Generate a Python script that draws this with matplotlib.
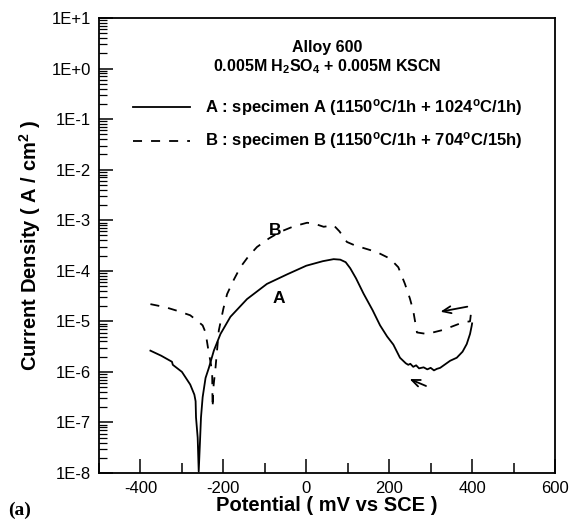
import matplotlib
matplotlib.use("Agg")
import matplotlib.pyplot as plt
import numpy as np
from matplotlib.ticker import FixedLocator, LogLocator, NullFormatter

plt.rcParams['font.family'] = ['Liberation Sans', 'DejaVu Sans']
plt.rcParams['mathtext.fontset'] = 'custom'
plt.rcParams['mathtext.rm'] = 'Liberation Sans:bold'
plt.rcParams['mathtext.it'] = 'Liberation Sans:bold'
plt.rcParams['mathtext.bf'] = 'Liberation Sans:bold'

# Specimen A (solid): potential (mV vs SCE), log10 current density
a_potential = [-376, -350, -324, -322, -300, -280, -270, -267, -266, -262, -259.5,
               -256, -254, -250, -243, -235, -223, -207, -183, -143, -95, -46, 0,
               40, 66, 82, 95, 106, 120, 138, 160, 178, 195, 210, 226, 240, 246,
               251, 258, 265, 272, 283, 292, 300, 308, 315, 323, 335, 347, 363,
               377, 387, 395, 399, 400]
a_logcur = [-5.58, -5.68, -5.80, -5.86, -6.00, -6.25, -6.45, -6.58, -6.90, -7.30, -7.97,
            -7.30, -6.90, -6.50, -6.12, -5.92, -5.58, -5.25, -4.91, -4.56, -4.26, -4.07, -3.90,
            -3.81, -3.77, -3.78, -3.83, -3.95, -4.15, -4.45, -4.78, -5.08, -5.30, -5.46, -5.72, -5.83, -5.86,
            -5.84, -5.90, -5.87, -5.93, -5.91, -5.95, -5.92, -5.97, -5.94, -5.92, -5.85, -5.78, -5.72,
            -5.60, -5.45, -5.25, -5.09, -5.04]

# Specimen B (dashed)
b_potential = [-376, -340, -312, -280, -263, -250, -243, -236, -230, -227, -226,
               -224, -219, -211, -200, -191, -175, -159, -140, -119, -90, -63, -30,
               2, 20, 42, 50, 66, 80, 98, 115, 130, 150, 170, 202, 222, 238, 250,
               258, 267, 291, 330, 378, 395, 399]
b_logcur = [-4.66, -4.72, -4.79, -4.88, -4.99, -5.08, -5.22, -5.58, -5.85, -6.05, -6.71,
            -6.30, -5.92, -5.18, -4.75, -4.46, -4.18, -3.93, -3.72, -3.53, -3.36, -3.23, -3.12,
            -3.05, -3.07, -3.13, -3.12, -3.10, -3.22, -3.43, -3.49, -3.53, -3.58, -3.63, -3.76, -3.93, -4.26, -4.55,
            -4.79, -5.22, -5.25, -5.17, -5.02, -5.00, -4.72]

y_ticklabels = ['1E-8', '1E-7', '1E-6', '1E-5', '1E-4', '1E-3', '1E-2', '1E-1', '1E+0', '1E+1']
x_ticks = [-400, -200, 0, 200, 400, 600]

fig = plt.figure(figsize=(5.71, 5.23), dpi=100)
ax = fig.add_axes([0.1734, 0.0956, 0.7986, 0.870])

ax.plot(a_potential, 10 ** np.array(a_logcur), color='black', lw=1.3, solid_joinstyle='round')
ax.plot(b_potential, 10 ** np.array(b_logcur), color='black', lw=1.3, dashes=(5, 5))

ax.set_yscale('log')
ax.set_xlim(-500, 600)
ax.set_ylim(1e-8, 1e1)
ax.yaxis.set_major_locator(FixedLocator([10.0 ** k for k in range(-8, 2)]))
ax.set_yticklabels(y_ticklabels)
ax.yaxis.set_minor_locator(LogLocator(base=10, subs=np.arange(2, 10), numticks=20))
ax.yaxis.set_minor_formatter(NullFormatter())
ax.set_xticks(x_ticks)
ax.set_xticklabels([str(v) for v in x_ticks])
ax.set_xticks([-500, -300, -100, 100, 300, 500], minor=True)

ax.tick_params(axis='both', which='major', direction='in', length=10, width=1.1,
               labelsize=12, pad=6)
ax.tick_params(axis='x', which='minor', direction='in', length=7, width=1.1)
ax.tick_params(axis='y', which='minor', direction='in', length=6, width=0.9)
ax.tick_params(top=False, right=False, which='both')
for s in ax.spines.values():
    s.set_linewidth(1.3)

ax.set_xlabel('Potential ( mV vs SCE )', fontsize=14.5, fontweight='bold', labelpad=0)
ax.set_ylabel('Current Density ( A / cm$^2$ )', fontsize=14.5, fontweight='bold', labelpad=6)

# Titles and legend
ax.text(0.50, 0.936, 'Alloy 600', transform=ax.transAxes, ha='center', va='center',
        fontsize=11.5, fontweight='bold')
ax.text(0.50, 0.894, '0.005M H$_2$SO$_4$ + 0.005M KSCN', transform=ax.transAxes,
        ha='center', va='center', fontsize=11.5, fontweight='bold')
ax.plot([0.075, 0.20], [0.804, 0.804], transform=ax.transAxes, color='black', lw=1.3)
ax.plot([0.075, 0.20], [0.730, 0.730], transform=ax.transAxes, color='black', lw=1.3,
        dashes=(5, 5))
ax.text(0.232, 0.804, 'A : specimen A (1150$^\\mathrm{o}$C/1h + 1024$^\\mathrm{o}$C/1h)',
        transform=ax.transAxes, ha='left', va='center', fontsize=12, fontweight='bold')
ax.text(0.232, 0.730, 'B : specimen B (1150$^\\mathrm{o}$C/1h + 704$^\\mathrm{o}$C/15h)',
        transform=ax.transAxes, ha='left', va='center', fontsize=12, fontweight='bold')

ax.text(-75, 10 ** -3.2, 'B', ha='center', va='center', fontsize=12.5, fontweight='bold')
ax.text(-67, 10 ** -4.54, 'A', ha='center', va='center', fontsize=12.5, fontweight='bold')

arrow = dict(arrowstyle='->,head_length=0.6,head_width=0.25', color='black', lw=1.3)
ax.annotate('', xy=(317, 10 ** -4.82), xytext=(395, 10 ** -4.70), arrowprops=arrow)
ax.annotate('', xy=(243, 10 ** -6.12), xytext=(295, 10 ** -6.30), arrowprops=arrow)

fig.text(0.014, 0.025, '(a)', fontsize=14, fontweight='bold', family='Liberation Serif',
         ha='left', va='center')

fig.savefig('out.png', dpi=100)
